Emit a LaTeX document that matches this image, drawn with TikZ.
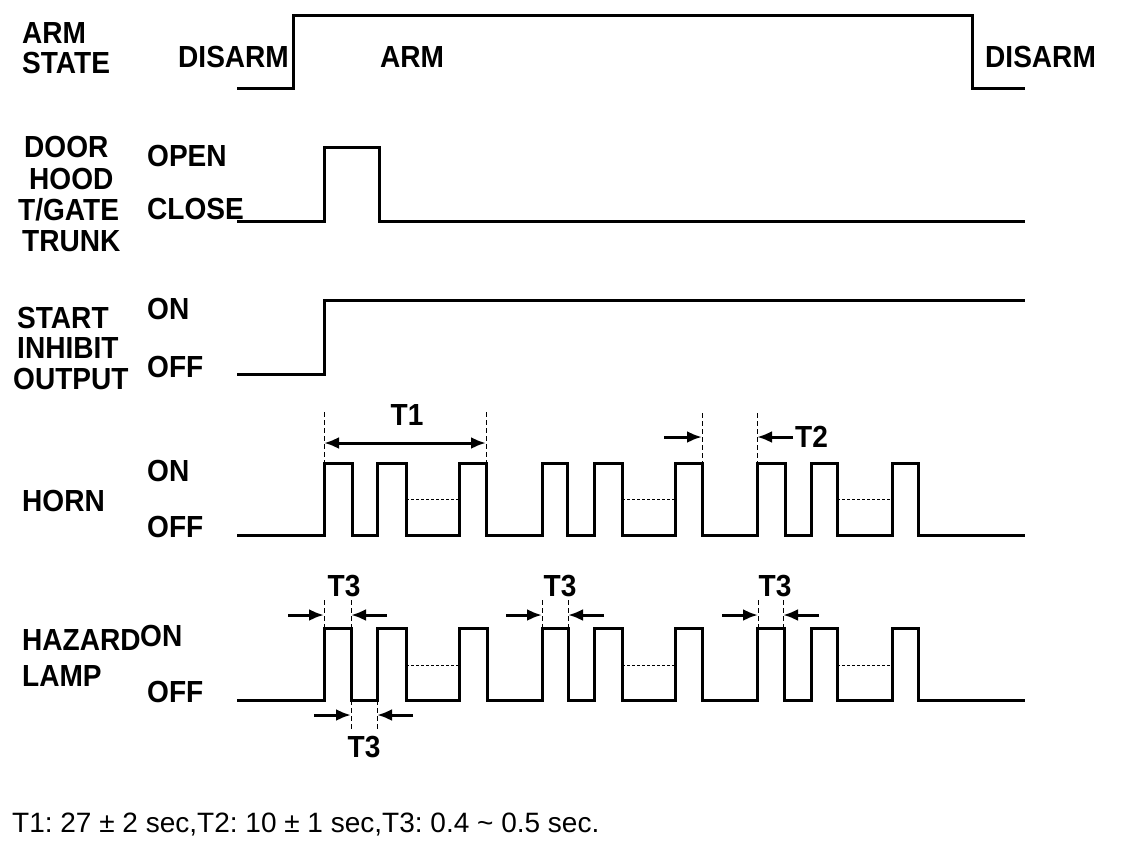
\documentclass[tikz,border=0pt]{standalone}
\usepackage{fontspec}
\setmainfont{Liberation Sans}
\newfontfamily\sigfam{Liberation Sans}[FakeStretch=0.92]
\usetikzlibrary{arrows.meta,positioning}
\newcommand{\sigfont}{\sigfam\fontsize{30.5}{32}\selectfont\bfseries}
\newcommand{\notefont}{\fontsize{28}{30}\selectfont\frenchspacing}

\begin{document}
\begin{tikzpicture}[>={Latex[length=15pt,width=12pt]},x=1pt,y=-1pt,
  wave/.style={line width=3pt},
  guide/.style={line width=0.9pt,dash pattern=on 5pt off 3pt},
  gap/.style={line width=1pt,dash pattern=on 3pt off 2pt},
  dim/.style={line width=3pt,->},
  lbl/.style={anchor=west,inner sep=0pt,font=\sigfont}]
  \useasboundingbox (0,0) rectangle (1136,844);

  % arm state
  \node[lbl] (armst1) at (22,33) {ARM};
  \node[lbl] (armst2) at (22,63) {STATE};
  \node[lbl] (disarml) at (178,57) {DISARM};
  \node[lbl] (arm) at (380,57) {ARM};
  \node[lbl] (disarmr) at (985,57) {DISARM};
  \draw[wave] (237,88) -- (293,88) -- (293,15) -- (972,15) -- (972,88) -- (1025,88);

  % door / hood / t-gate / trunk
  \node[lbl] (door) at (24,147) {DOOR};
  \node[lbl] (hood) at (29,179) {HOOD};
  \node[lbl] (tgate) at (18,210) {T/GATE};
  \node[lbl] (trunk) at (22,241) {TRUNK};
  \node[lbl] (open) at (147,156) {OPEN};
  \node[lbl] (close) at (147,209) {CLOSE};
  \draw[wave] (237,221) -- (324,221) -- (324,147) -- (379,147) -- (379,221) -- (1025,221);

  % start inhibit output
  \node[lbl] (start) at (17,318) {START};
  \node[lbl] (inhibit) at (17,348) {INHIBIT};
  \node[lbl] (output) at (13,379) {OUTPUT};
  \node[lbl] (inhon) at (147,309) {ON};
  \node[lbl] (inhoff) at (147,367) {OFF};
  \draw[wave] (237,374) -- (324,374) -- (324,300) -- (1025,300);

  % horn
  \node[lbl] (horn) at (22,501) {HORN};
  \node[lbl] (hornon) at (147,471) {ON};
  \node[lbl] (hornoff) at (147,527) {OFF};
  \draw[wave] (237,535) foreach \r/\f in {324/352,377/406,459/486,542/567,594/622,675/702,757/785,811/837,892/918}
    { -- (\r,535) -- (\r,463) -- (\f,463) -- (\f,535) } -- (1025,535);
  \foreach \a/\b in {406/459,622/675,837/892}
    \draw[gap] (\a,499) -- (\b,499);

  \coordinate (t1s) at (324,443);
  \coordinate (t1e) at (486,443);
  \draw[guide] (324,412) -- (324,462);
  \draw[guide] (486,412) -- (486,462);
  \draw[dim,<->] (t1s) -- (t1e);
  \node[lbl,anchor=center] (t1) at (407,415) {T1};

  \coordinate (t2a) at (702,437);
  \coordinate (t2b) at (757,437);
  \draw[guide] (702,413) -- (702,462);
  \draw[guide] (757,413) -- (757,462);
  \draw[dim] (664,437) -- (t2a);
  \draw[dim] (793,437) -- (t2b);
  \node[lbl] (t2) at (795,437) {T2};

  % hazard lamp
  \node[lbl] (hazard) at (22,640) {HAZARD};
  \node[lbl] (lamp) at (22,676) {LAMP};
  \node[lbl] (hazon) at (140,636) {ON};
  \node[lbl] (hazoff) at (147,692) {OFF};
  \draw[wave] (237,700) foreach \r/\f in {324/351,377/406,459/487,542/568,594/622,675/702,757/784,811/837,892/918}
    { -- (\r,700) -- (\r,628) -- (\f,628) -- (\f,700) } -- (1025,700);
  \foreach \a/\b in {406/459,622/675,837/892}
    \draw[gap] (\a,665) -- (\b,665);

  \foreach \a/\b/\lx [count=\i] in {324/351/344,542/568/560,758/783/775} {
    \coordinate (t3l\i) at (\a,615);
    \coordinate (t3r\i) at (\b,615);
    \draw[guide] (\a,600) -- (\a,628);
    \draw[guide] (\b,600) -- (\b,628);
    \draw[dim] ([xshift=-36pt]t3l\i) -- (t3l\i);
    \draw[dim] ([xshift=36pt]t3r\i) -- (t3r\i);
    \node[lbl,anchor=center] (t3top\i) at (\lx,586) {T3};
  }
  \coordinate (t3bl) at (351,715);
  \coordinate (t3br) at (377,715);
  \draw[guide] (351,700) -- (351,729);
  \draw[guide] (377,700) -- (377,729);
  \draw[dim] (314,715) -- (t3bl);
  \draw[dim] (413,715) -- (t3br);
  \node[lbl,anchor=center] (t3bot) at (364,747) {T3};

  % timing note
  \node[anchor=base west,inner sep=0pt,font=\notefont] (note) at (12,832)
    {T1: 27 ± 2 sec,T2: 10 ± 1 sec,T3: 0.4 \textasciitilde{} 0.5 sec.};
\end{tikzpicture}
\end{document}
